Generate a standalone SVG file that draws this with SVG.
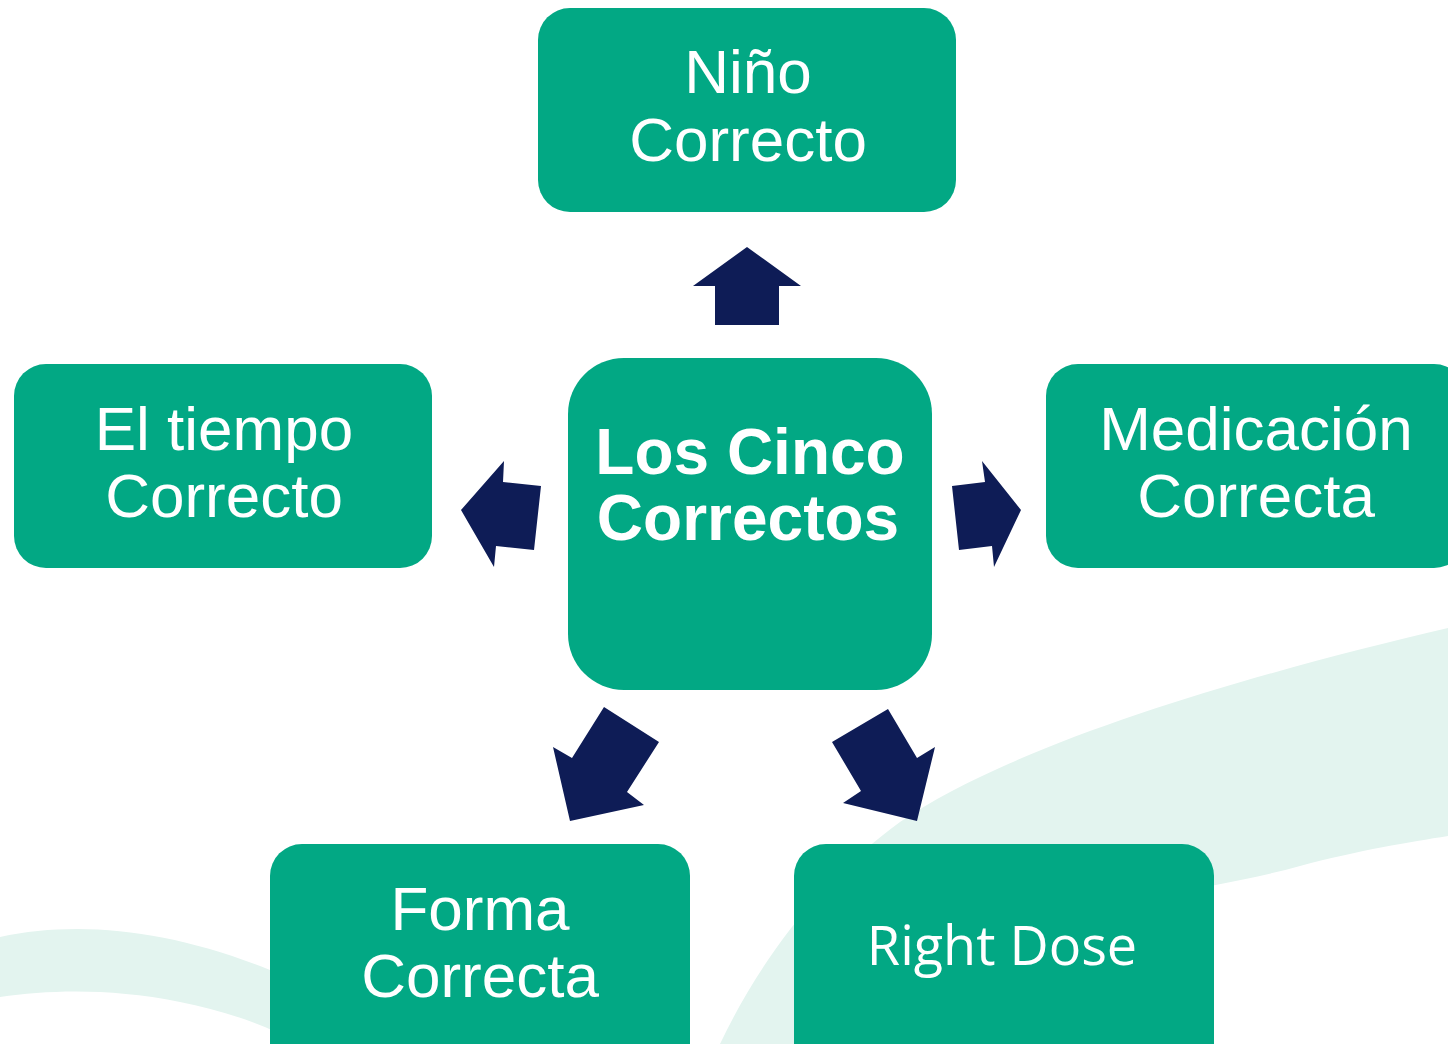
<svg xmlns="http://www.w3.org/2000/svg" width="1448" height="1044" viewBox="0 0 1448 1044">
<style>
.box{fill:#02a884}
.lbl{font-family:"Liberation Sans",Arial,sans-serif;font-size:62px;fill:#ffffff;text-anchor:middle}
.bold{font-weight:bold;font-size:64px}
.cal{font-family:"Open Sans","Noto Sans",sans-serif;font-size:54px}
.arr{fill:#0e1c56}
.swoosh{fill:#e3f4ef}
</style>
<rect width="1448" height="1044" fill="#ffffff"/>
<g id="background">
<path class="swoosh" d="M1448 628 C1260 672 1020 740 900 822 C820 880 760 960 720 1044 L850 1044 C900 990 960 950 1016 930 C1100 900 1214 890 1300 866 C1360 850 1410 842 1448 836 Z"/>
<path class="swoosh" d="M0 937 C80 920 170 930 270 970 C320 992 350 1015 370 1044 L300 1044 C260 1022 220 1010 180 1002 C110 988 50 990 0 997 Z"/>
</g>
<g id="connectors">
<polygon class="arr" points="747,247 801,286 779,286 779,325 715,325 715,286 693,286"/>
<polygon class="arr" points="461,510 504,461 503,482 541,486 534,550 496,546 494,567"/>
<polygon class="arr" points="1021,510 982,461 985,482 952,486 959,550 992,546 994,567"/>
<polygon class="arr" points="604,707 659,742 627,792 644,805 570,821 553,747 572,758"/>
<polygon class="arr" points="888,709 917,758 935,747 917,821 843,803 861,791 832,742"/>
</g>
<g id="node-top">
<rect class="box" x="538" y="8" width="418" height="204" rx="32"/>
<text class="lbl" x="748" y="93">Niño</text>
<text class="lbl" x="748" y="161">Correcto</text>
</g>
<g id="node-left">
<rect class="box" x="14" y="364" width="418" height="204" rx="32"/>
<text class="lbl" x="224" y="450">El tiempo</text>
<text class="lbl" x="224" y="517">Correcto</text>
</g>
<g id="node-center">
<rect class="box" x="568" y="358" width="364" height="332" rx="56"/>
<text class="lbl bold" x="750" y="474">Los Cinco</text>
<text class="lbl bold" x="748" y="540">Correctos</text>
</g>
<g id="node-right">
<rect class="box" x="1046" y="364" width="420" height="204" rx="32"/>
<text class="lbl" x="1256" y="450">Medicación</text>
<text class="lbl" x="1256" y="517">Correcta</text>
</g>
<g id="node-bottom-left">
<rect class="box" x="270" y="844" width="420" height="240" rx="32"/>
<text class="lbl" x="480" y="930">Forma</text>
<text class="lbl" x="480" y="997">Correcta</text>
</g>
<g id="node-bottom-right">
<rect class="box" x="794" y="844" width="420" height="240" rx="32"/>
<text class="lbl cal" x="1002" y="965">Right Dose</text>
</g>
</svg>
